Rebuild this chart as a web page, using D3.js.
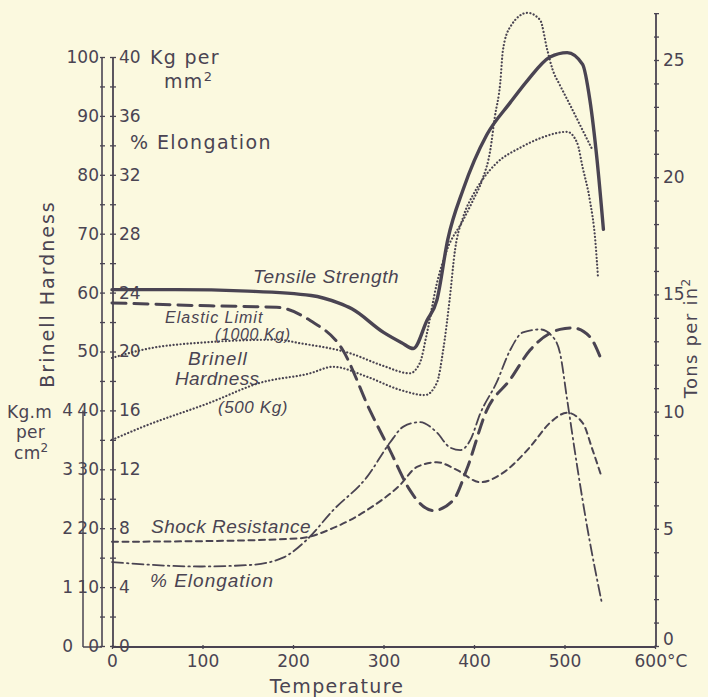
<!DOCTYPE html>
<html>
<head>
<script src="https://cdnjs.cloudflare.com/ajax/libs/d3/7.8.5/d3.min.js"></script>
<style>
  body { margin: 0; background: #fbf9df; }
  svg { display: block; }
  .tick text { font-family: "DejaVu Sans", sans-serif; font-size: 17px; fill: #4a4452; }
  .lbl { font-family: "DejaVu Sans", sans-serif; fill: #4a4452; }
  .ital { font-family: "Liberation Sans", Arial, sans-serif; font-style: italic; fill: #4a4452; }
</style>
</head>
<body>
<div id="vis"></div>
<script>
const w = 708, h = 697;
const ink = "#4a4452";

// temperature (°C) and values
const tensileT = [0, 70, 150, 220, 250, 265, 300, 320, 333, 348, 359, 371, 388, 414, 440, 459, 484, 503, 520, 528, 536, 543];
const tensileV = [24.2, 24.2, 24.1, 23.8, 23.3, 22.9, 21.3, 20.6, 20.2, 22.1, 23.5, 27.6, 31.0, 34.7, 36.9, 38.4, 40.0, 40.3, 39.5, 37.1, 33.0, 28.3];

const elasticT = [0, 108, 182, 219, 255, 285, 307, 329, 340, 355, 377, 392, 414, 440, 462, 495, 509, 528, 539];
const elasticV = [23.3, 23.1, 23.0, 22.1, 20.1, 16.0, 13.3, 10.6, 9.7, 9.2, 9.9, 12.0, 16.0, 18.1, 20.1, 21.5, 21.6, 21.0, 19.7];

const brinell1000T = [0, 34, 108, 182, 208, 263, 299, 329, 340, 348, 359, 370, 388, 399, 409, 418, 423, 429, 432, 440, 459, 473, 481, 487, 495, 506, 517, 531];
const brinell1000V = [48.9, 50.3, 51.6, 52.0, 51.4, 49.7, 47.6, 46.3, 48.0, 53.1, 61.6, 67.2, 72.3, 75.7, 79.1, 84.2, 89.8, 95.6, 101.2, 105.1, 107.5, 106.3, 101.2, 97.8, 95.2, 91.9, 88.5, 84.2];

const brinell500T = [0, 34, 108, 164, 219, 244, 282, 318, 346, 359, 366, 373, 379, 388, 399, 409, 425, 451, 473, 503, 514, 520, 528, 534, 537];
const brinell500V = [35.0, 37.2, 41.3, 44.7, 46.3, 47.4, 45.7, 43.5, 42.6, 44.7, 50.3, 58.7, 67.2, 72.8, 76.6, 79.1, 82.0, 84.6, 86.2, 87.3, 85.4, 81.3, 75.7, 68.9, 62.6];

const shockT = [0, 97, 208, 244, 282, 318, 337, 359, 381, 407, 432, 462, 484, 503, 520, 531, 541];
const shockV = [1.77, 1.78, 1.83, 2.00, 2.31, 2.73, 3.04, 3.12, 2.99, 2.78, 2.94, 3.38, 3.79, 3.96, 3.79, 3.33, 2.87];

const elongT = [0, 97, 152, 189, 215, 244, 282, 307, 322, 340, 359, 373, 385, 396, 407, 425, 440, 454, 473, 487, 495, 503, 514, 525, 541];
const elongV = [5.7, 5.4, 5.5, 6.0, 7.2, 9.2, 11.5, 13.8, 14.9, 15.2, 14.5, 13.5, 13.3, 14.0, 15.8, 17.9, 20.1, 21.3, 21.5, 21.0, 19.9, 16.7, 12.2, 8.1, 3.0];

const tempTicks = [0, 100, 200, 300, 400, 500, 600];
const kgTicks = d3.range(0, 41, 2);
const brinellTicks = d3.range(0, 101, 5);
const kgmTicks = [0, 1, 2, 3, 4];
const tonsTicks = d3.range(0, 28, 1);

const svg = d3.select("#vis").append("svg").attr("width", w).attr("height", h);
svg.append("rect").attr("width", w).attr("height", h).attr("fill", "#fbf9df");

const x = d3.scaleLinear().domain([0, 600]).range([112, 655]);
const yKg = d3.scaleLinear().domain([0, 40]).range([646, 57]);
const yBr = d3.scaleLinear().domain([0, 100]).range([646, 57]);
const yKgm = d3.scaleLinear().domain([0, 4]).range([646, yKg(16)]);
const yTons = d3.scaleLinear().domain([0, 25]).range([646, 60]);

const axInner = 113, axBr = 102, axKgm = 83, axRight = 656, axBottom = 647;

function styleAxis(g) {
  g.select(".domain").remove();
  g.selectAll(".tick line").attr("stroke", ink).attr("stroke-width", 1.3);
}

// bottom axis
svg.append("line").attr("x1", x(0)).attr("x2", axRight).attr("y1", axBottom).attr("y2", axBottom)
  .attr("stroke", ink).attr("stroke-width", 1.8);
svg.append("line").attr("x1", axKgm).attr("x2", axBr).attr("y1", axBottom).attr("y2", axBottom)
  .attr("stroke", ink).attr("stroke-width", 1.5);
const gx = svg.append("g").attr("transform", `translate(0,${axBottom})`)
  .call(d3.axisBottom(x).tickValues(tempTicks).tickSize(3)
    .tickFormat(d => d === 600 ? "600°C" : d));
styleAxis(gx);
gx.selectAll(".tick line").attr("y1", -2).attr("y2", 2);
gx.selectAll(".tick text").attr("y", 8).attr("dy", "0.71em");
gx.selectAll(".tick text").filter(d => d === 600).attr("text-anchor", "start").attr("x", -21);

// inner left axis (Kg per mm2 / % elongation)
svg.append("line").attr("x1", axInner).attr("x2", axInner).attr("y1", yKg(40)).attr("y2", axBottom)
  .attr("stroke", ink).attr("stroke-width", 1.8);
const gk = svg.append("g").attr("transform", `translate(${axInner},0)`)
  .call(d3.axisRight(yKg).tickValues(kgTicks).tickSize(3)
    .tickFormat(d => d % 4 === 0 ? d : ""));
styleAxis(gk);
gk.selectAll(".tick line").attr("x1", -3).attr("x2", 3);
gk.selectAll(".tick text").attr("x", 6);

// Brinell axis
svg.append("line").attr("x1", axBr).attr("x2", axBr).attr("y1", yBr(100)).attr("y2", axBottom)
  .attr("stroke", ink).attr("stroke-width", 1.6);
const gb = svg.append("g").attr("transform", `translate(${axBr},0)`)
  .call(d3.axisLeft(yBr).tickValues(brinellTicks).tickSize(3)
    .tickFormat(d => d % 10 === 0 ? d : ""));
styleAxis(gb);
gb.selectAll(".tick line").attr("x1", -2).attr("x2", 3);
gb.selectAll(".tick text").attr("x", -3);

// Kg.m per cm2 axis
svg.append("line").attr("x1", axKgm).attr("x2", axKgm).attr("y1", yKgm(4)).attr("y2", axBottom)
  .attr("stroke", ink).attr("stroke-width", 1.5);
const gm = svg.append("g").attr("transform", `translate(${axKgm},0)`)
  .call(d3.axisLeft(yKgm).tickValues(kgmTicks).tickSize(0).tickFormat(d => d));
styleAxis(gm);
gm.selectAll(".tick text").attr("x", -10);

// right axis (tons per in2)
svg.append("line").attr("x1", axRight).attr("x2", axRight).attr("y1", 14).attr("y2", axBottom)
  .attr("stroke", ink).attr("stroke-width", 1.8);
const gt = svg.append("g").attr("transform", `translate(${axRight},0)`)
  .call(d3.axisRight(yTons).tickValues(tonsTicks).tickSize(3)
    .tickFormat(d => d % 5 === 0 ? d : ""));
styleAxis(gt);
gt.selectAll(".tick line").attr("x1", -2).attr("x2", 3);
gt.selectAll(".tick text").attr("x", 7);
gt.selectAll(".tick text").filter(d => d === 0).attr("y", -7);

// curves
const curve = d3.curveMonotoneX;
function drawLine(ts, vs, y, width, dash) {
  const pts = ts.map((t, i) => [t, vs[i]]);
  svg.append("path")
    .datum(pts)
    .attr("fill", "none")
    .attr("stroke", ink)
    .attr("stroke-width", width)
    .attr("stroke-linecap", "round")
    .attr("stroke-dasharray", dash)
    .attr("d", d3.line().curve(curve).x(d => x(d[0])).y(d => y(d[1])));
}

drawLine(brinell1000T, brinell1000V, yBr, 2.2, "0.1,3.4");
drawLine(brinell500T, brinell500V, yBr, 2.2, "0.1,3.4");
drawLine(shockT, shockV, yKgm, 2.0, "6,4.5");
drawLine(elongT, elongV, yKg, 1.8, "11,4,1.5,4");
drawLine(elasticT, elasticV, yKg, 3, "14,8");
drawLine(tensileT, tensileV, yKg, 3.4, null);

// axis titles
svg.append("text").attr("class", "lbl").attr("x", 150).attr("y", 64)
  .style("font-size", "19px").style("letter-spacing", "1.3px").text("Kg per");
svg.append("text").attr("class", "lbl").attr("x", 164).attr("y", 88)
  .style("font-size", "19px").style("letter-spacing", "1.3px")
  .html('mm<tspan dy="-7" style="font-size:13px">2</tspan>');
svg.append("text").attr("class", "lbl").attr("x", 130).attr("y", 149)
  .style("font-size", "19px").style("letter-spacing", "1.4px").text("% Elongation");

svg.append("text").attr("class", "lbl")
  .attr("transform", "translate(54,294) rotate(-90)")
  .attr("text-anchor", "middle")
  .style("font-size", "19px").style("letter-spacing", "2px").text("Brinell Hardness");

svg.append("text").attr("class", "lbl").attr("x", 7).attr("y", 418)
  .style("font-size", "17px").style("letter-spacing", "0.3px").text("Kg.m");
svg.append("text").attr("class", "lbl").attr("x", 16).attr("y", 438)
  .style("font-size", "17px").style("letter-spacing", "0.3px").text("per");
svg.append("text").attr("class", "lbl").attr("x", 14).attr("y", 459)
  .style("font-size", "17px").style("letter-spacing", "0.3px")
  .html('cm<tspan dy="-7" style="font-size:12px">2</tspan>');

svg.append("text").attr("class", "lbl")
  .attr("transform", "translate(697,338) rotate(-90)")
  .attr("text-anchor", "middle")
  .style("font-size", "18px").style("letter-spacing", "1.3px")
  .html('Tons per in<tspan dy="-7" style="font-size:12px">2</tspan>');

svg.append("text").attr("class", "lbl").attr("x", 337).attr("y", 693)
  .attr("text-anchor", "middle")
  .style("font-size", "19px").style("letter-spacing", "1.3px").text("Temperature");

// curve labels
const curveLabels = [
  {t: "Tensile Strength", x: 253, y: 283, s: 19, ls: 0.6},
  {t: "Elastic Limit", x: 165, y: 323, s: 16, ls: 1},
  {t: "(1000 Kg)", x: 215, y: 340, s: 16, ls: 0.6},
  {t: "Brinell", x: 188, y: 365, s: 19, ls: 1},
  {t: "Hardness", x: 175, y: 385, s: 19, ls: 0.4},
  {t: "(500 Kg)", x: 218, y: 413, s: 17, ls: 0.6},
  {t: "Shock Resistance", x: 151, y: 533, s: 19, ls: 0.5},
  {t: "% Elongation", x: 150, y: 587, s: 19, ls: 1}
];
svg.selectAll("text.ital").data(curveLabels).join("text")
  .attr("class", "ital")
  .attr("x", d => d.x).attr("y", d => d.y)
  .style("font-size", d => d.s + "px")
  .style("letter-spacing", d => d.ls + "px")
  .text(d => d.t);
</script>
</body>
</html>
